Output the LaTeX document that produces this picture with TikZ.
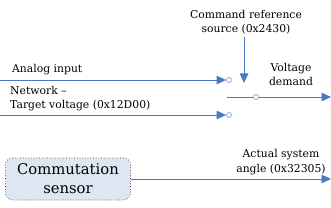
\documentclass[tikz,border=0pt]{standalone}
\usepackage{fontspec}
\setmainfont{DejaVu Serif}
\usetikzlibrary{arrows.meta}

\definecolor{sigblue}{HTML}{4A78C2}
\definecolor{portblue}{HTML}{8FA8D2}
\definecolor{boxfill}{HTML}{DEE6F2}

\tikzset{
  sig/.style={draw=sigblue, line width=0.9pt,
    -{Triangle[length=9.5pt,width=8.5pt]}},
  port/.style={circle, draw=portblue, fill=white, line width=0.8pt,
    inner sep=0pt, minimum size=5pt},
  lbl/.style={font=\fontsize{10.8}{14.5}\selectfont, inner sep=0pt,
    align=center},
  sensorbox/.style={rounded corners=7pt, draw=black!80, dotted,
    line width=0.7pt, fill=boxfill, minimum width=125pt,
    minimum height=42pt, font=\fontsize{14.8}{19}\selectfont,
    align=center, inner sep=0pt}
}

\begin{document}
\begin{tikzpicture}[x=1pt,y=-1pt]

\useasboundingbox
(0,0)
rectangle
(331,208);

% inputs of the selector
\coordinate
(ain)
at (0,80);

\node[port]
(pa)
at (229,80)
{};

\draw[sig]
(ain)
--
(pa.west);

\node[lbl,anchor=base west]
(alabel)
at (12,73)
{Analog input};

\coordinate
(nin)
at (0,115);

\node[port]
(pn)
at (229,115)
{};

\draw[sig]
(nin)
--
(pn.west);

\node[lbl,anchor=base west,align=left]
(nlabel)
at (10,109)
{Network --\\Target voltage (0x12D00)};

% command reference
\node[lbl,anchor=base]
(cmdlabel)
at (246,33)
{Command reference\\source (0x2430)};

\coordinate
(cmdtop)
at (244,37);

\coordinate
(cmdend)
at (244,83);

\draw[sig]
(cmdtop)
--
(cmdend);

% output of the selector
\coordinate
(vin)
at (227,97);

\node[port]
(pv)
at (256,97)
{};

\coordinate
(vout)
at (331,97);

\draw[draw=sigblue,line width=0.9pt]
(vin)
--
(pv.west);

\draw[sig]
(pv.east)
--
(vout);

\node[lbl,anchor=base]
(vlabel)
at (291,86)
{Voltage\\demand};

% commutation sensor
\node[sensorbox]
(sensor)
at (68,179)
{Commutation\\sensor};

\coordinate
(aout)
at (331,179);

\draw[sig]
(sensor.east)
--
(aout);

\node[lbl,anchor=base]
(anglabel)
at (281,172)
{Actual system\\angle (0x32305)};

\end{tikzpicture}
\end{document}
